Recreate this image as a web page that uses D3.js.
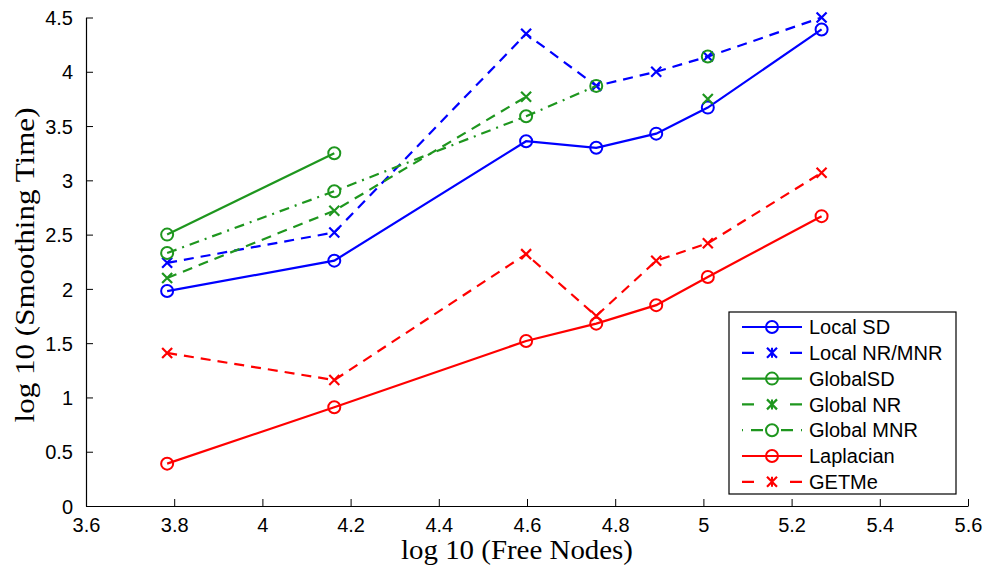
<!DOCTYPE html>
<html>
<head>
<meta charset="utf-8">
<script src="https://cdn.jsdelivr.net/npm/d3@7"></script>
<style>
    body { margin: 0; background: #ffffff; }
    svg { display: block; }
</style>
</head>
<body>
<script>
// x positions: log10 of free node counts
const freeNodes = [3.784, 4.163, 4.598, 4.757, 4.893, 5.010, 5.268];

// series values: log10 of smoothing time (null = no point)
const localSD = [1.98, 2.26, 3.36, 3.30, 3.43, 3.67, 4.39];
const localNR = [2.24, 2.52, 4.35, 3.87, 4.00, 4.14, 4.50];
const globalSD = [2.50, 3.25, null, null, null, null, null];
const globalNR = [2.10, 2.72, 3.77, null, null, 3.75, null];
const globalMNR = [2.33, 2.90, 3.59, 3.87, null, 4.14, null];
const laplacian = [0.39, 0.91, 1.52, 1.68, 1.85, 2.11, 2.67];
const getme = [1.41, 1.16, 2.32, 1.75, 2.26, 2.42, 3.07];

// legend names, same order as the series
const seriesNames = ["Local SD", "Local NR/MNR", "GlobalSD", "Global NR", "Global MNR", "Laplacian", "GETMe"];

// tick labels
const xTicks = [3.6, 3.8, 4, 4.2, 4.4, 4.6, 4.8, 5, 5.2, 5.4, 5.6];
const yTicks = [0, 0.5, 1, 1.5, 2, 2.5, 3, 3.5, 4, 4.5];

// colors
const BLUE = "#0000ff";
const GREEN = "#1e961e";
const RED = "#ff0000";

// dash patterns
const DASH = "10,7";
const DASHDOT = "10,6,2,6";

// style for each series: color, dash, marker, legend dash
const styles = [
    { color: BLUE, dash: null, marker: "o", legendDash: null },
    { color: BLUE, dash: DASH, marker: "x", legendDash: "12,36,12" },
    { color: GREEN, dash: null, marker: "o", legendDash: null },
    { color: GREEN, dash: DASH, marker: "x", legendDash: "12,36,12" },
    { color: GREEN, dash: DASHDOT, marker: "o", legendDash: "1,8,12,18,12,8,1" },
    { color: RED, dash: null, marker: "o", legendDash: null },
    { color: RED, dash: DASH, marker: "x", legendDash: "12,36,12" }
];

const seriesValues = [localSD, localNR, globalSD, globalNR, globalMNR, laplacian, getme];

const WIDTH = 986;
const HEIGHT = 574;

// plot area
const LEFT = 86;
const RIGHT = 968;
const TOP = 17.5;
const BOTTOM = 506;

const TICK_LEN = 7;
const MARKER_R = 6;
const X_HALF = 5;

const svg = d3.select("body")
    .append("svg")
    .attr("width", WIDTH)
    .attr("height", HEIGHT);

const x = d3.scaleLinear().domain([3.6, 5.6]).range([LEFT, RIGHT]);
const y = d3.scaleLinear().domain([0, 4.5]).range([BOTTOM, TOP]);

// x axis with inward ticks
const xAxis = svg.append("g")
    .attr("transform", `translate(0,${BOTTOM})`)
    .call(d3.axisBottom(x).tickValues(xTicks).tickSizeInner(-TICK_LEN).tickSizeOuter(0).tickPadding(TICK_LEN + 5).tickFormat(d3.format("")));

// y axis with inward ticks
const yAxis = svg.append("g")
    .attr("transform", `translate(${LEFT},0)`)
    .call(d3.axisLeft(y).tickValues(yTicks).tickSizeInner(-TICK_LEN).tickSizeOuter(0).tickPadding(TICK_LEN + 6).tickFormat(d3.format("")));

[xAxis, yAxis].forEach(ax => {
    ax.select(".domain").attr("stroke", "#000").attr("stroke-width", 1.2);
    ax.selectAll(".tick line").attr("stroke", "#000").attr("stroke-width", 1);
    ax.selectAll(".tick text")
        .attr("fill", "#000")
        .style("font-family", "'Liberation Sans', Arial, sans-serif")
        .style("font-size", "20px");
});
yAxis.selectAll(".tick text").attr("dy", "0.36em");

// axis titles (stretched a little to match the wider TeX font)
svg.append("text")
    .attr("x", 517)
    .attr("y", 559)
    .attr("text-anchor", "middle")
    .attr("textLength", 232)
    .attr("lengthAdjust", "spacingAndGlyphs")
    .style("font-family", "'Liberation Serif', 'Times New Roman', serif")
    .style("font-size", "27px")
    .text("log 10 (Free Nodes)");

svg.append("text")
    .attr("transform", `translate(34,265) rotate(-90)`)
    .attr("text-anchor", "middle")
    .attr("textLength", 315)
    .attr("lengthAdjust", "spacingAndGlyphs")
    .style("font-family", "'Liberation Serif', 'Times New Roman', serif")
    .style("font-size", "27px")
    .text("log 10 (Smoothing Time)");

// draws a marker of the given kind into a selection
const drawMarker = (g, kind, color) => {
    if (kind === "o") {
        g.append("circle")
            .attr("r", MARKER_R)
            .attr("fill", "none")
            .attr("stroke", color)
            .attr("stroke-width", 2);
    } else {
        g.append("path")
            .attr("d", `M${-X_HALF},${-X_HALF}L${X_HALF},${X_HALF}M${-X_HALF},${X_HALF}L${X_HALF},${-X_HALF}`)
            .attr("fill", "none")
            .attr("stroke", color)
            .attr("stroke-width", 2.2);
    }
};

const line = d3.line()
    .defined(d => d.v !== null)
    .x(d => x(d.x))
    .y(d => y(d.v));

// series lines and markers
seriesValues.forEach((values, i) => {
    const st = styles[i];
    const pts = values.map((v, j) => ({ x: freeNodes[j], v: v }));

    svg.append("path")
        .datum(pts)
        .attr("d", line)
        .attr("fill", "none")
        .attr("stroke", st.color)
        .attr("stroke-width", 2.2)
        .attr("stroke-dasharray", st.dash);

    svg.append("g")
        .selectAll("g")
        .data(pts.filter(d => d.v !== null))
        .enter()
        .append("g")
        .attr("transform", d => `translate(${x(d.x)},${y(d.v)})`)
        .each(function () { drawMarker(d3.select(this), st.marker, st.color); });
});

// legend
const LEG_X = 729;
const LEG_Y = 312;
const LEG_W = 227;
const LEG_H = 182;
const LEG_ROW = 25.8;

const legend = svg.append("g").attr("transform", `translate(${LEG_X},${LEG_Y})`);

legend.append("rect")
    .attr("width", LEG_W)
    .attr("height", LEG_H)
    .attr("fill", "#ffffff")
    .attr("stroke", "#000")
    .attr("stroke-width", 1.2);

const rows = legend.selectAll("g.row")
    .data(seriesNames)
    .enter()
    .append("g").classed("row", true)
    .attr("transform", (d, i) => `translate(0,${15 + i * LEG_ROW})`);

rows.append("line")
    .attr("x1", 13)
    .attr("x2", 73)
    .attr("stroke", (d, i) => styles[i].color)
    .attr("stroke-width", 2.2)
    .attr("stroke-dasharray", (d, i) => styles[i].legendDash);

rows.each(function (d, i) {
    const m = d3.select(this).append("g").attr("transform", "translate(43,0)");
    drawMarker(m, styles[i].marker, styles[i].color);
    if (styles[i].marker === "x") {
        m.append("line").attr("y1", -5).attr("y2", 5).attr("stroke", styles[i].color).attr("stroke-width", 2);
    }
});

rows.append("text")
    .attr("x", 80)
    .attr("dy", "0.36em")
    .style("font-family", "'Liberation Sans', Arial, sans-serif")
    .style("font-size", "20px")
    .text(d => d);
</script>
</body>
</html>
